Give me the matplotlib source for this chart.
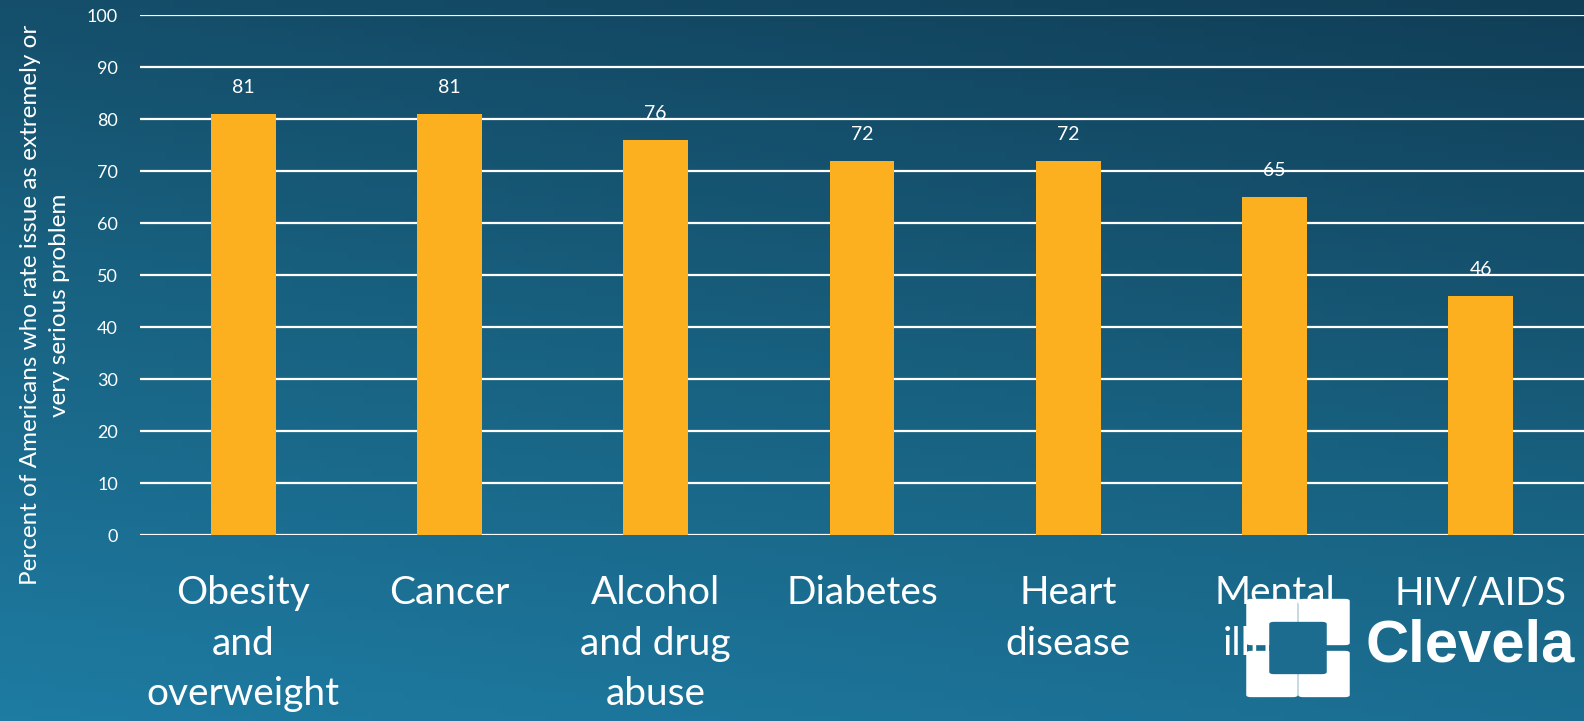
import numpy as np
import matplotlib.pyplot as plt
from matplotlib.patches import FancyBboxPatch
from matplotlib.colors import LinearSegmentedColormap

categories = ["Obesity\nand\noverweight", "Cancer", "Alcohol\nand drug\nabuse",
              "Diabetes", "Heart\ndisease", "Mental\nillness", "HIV/AIDS"]
values = [81, 81, 76, 72, 72, 65, 46]
yticks = [0, 10, 20, 30, 40, 50, 60, 70, 80, 90, 100]

W, H = 1584, 721
plt.rcParams['font.family'] = ['Lato', 'DejaVu Sans']

fig = plt.figure(figsize=(W / 100, H / 100), dpi=100)

# background gradient: dark navy at the top (darkest top-right), lighter blue at the bottom
bg = fig.add_axes([0, 0, 1, 1], zorder=0)
xx, yy = np.meshgrid(np.linspace(0, 1, 200), np.linspace(0, 1, 100))
grad = 0.75 * yy + 0.25 * xx
cmap = LinearSegmentedColormap.from_list("bg", ["#1e7ba2", "#18607f", "#113e57"])
bg.imshow(grad, cmap=cmap, aspect='auto', extent=[0, 1, 0, 1], origin='lower')
bg.set_axis_off()

ax = fig.add_axes([140 / W, (H - 535) / H, 1 - 140 / W, 520 / H], zorder=1)
ax.patch.set_alpha(0)
x = np.arange(len(categories))
ax.bar(x, values, width=0.315, color="#fdb01f", zorder=3)
for xi, v in zip(x, values):
    ax.text(xi, v + 5, str(v), ha='center', va='center', color='white', fontsize=14)

ax.set_xlim(-0.5, len(categories) - 0.5)
ax.set_ylim(0, 100)
ax.set_yticks(yticks)
ax.yaxis.grid(True, color='white', linewidth=1.6)
ax.set_axisbelow(True)
ax.tick_params(axis='y', length=0, pad=16, labelcolor='white', labelsize=13)
ax.tick_params(axis='x', length=0, pad=29, labelcolor='white', labelsize=28)
ax.set_xticks(x)
ax.set_xticklabels(categories, linespacing=1.5)
for s in ax.spines.values():
    s.set_visible(False)

fig.text(45 / W, (H - 305) / H,
         "Percent of Americans who rate issue as extremely or\nvery serious problem",
         rotation=90, ha='center', va='center', color='white', fontsize=17.5,
         linespacing=1.5)

# logo
logo_bg = "#1b6c8f"
for (lx, ly) in [(1248, 598), (1300, 598), (1248, 650), (1300, 650)]:
    p = FancyBboxPatch(((lx + 3) / W, (H - ly - 45) / H), 42 / W, 42 / H,
                       boxstyle="round,pad=0.003", transform=fig.transFigure,
                       facecolor='white', edgecolor='none', zorder=5)
    fig.patches.append(p)
c = FancyBboxPatch((1274 / W, (H - 672) / H), 48 / W, 48 / H,
                   boxstyle="round,pad=0.003", transform=fig.transFigure,
                   facecolor=logo_bg, edgecolor='none', zorder=6)
fig.patches.append(c)
fig.text(1366 / W, (H - 646) / H, "Clevela", color='white', fontsize=43,
         fontweight='bold', family='Liberation Sans', ha='left', va='center', zorder=7)

fig.savefig("out.png", dpi=100)
